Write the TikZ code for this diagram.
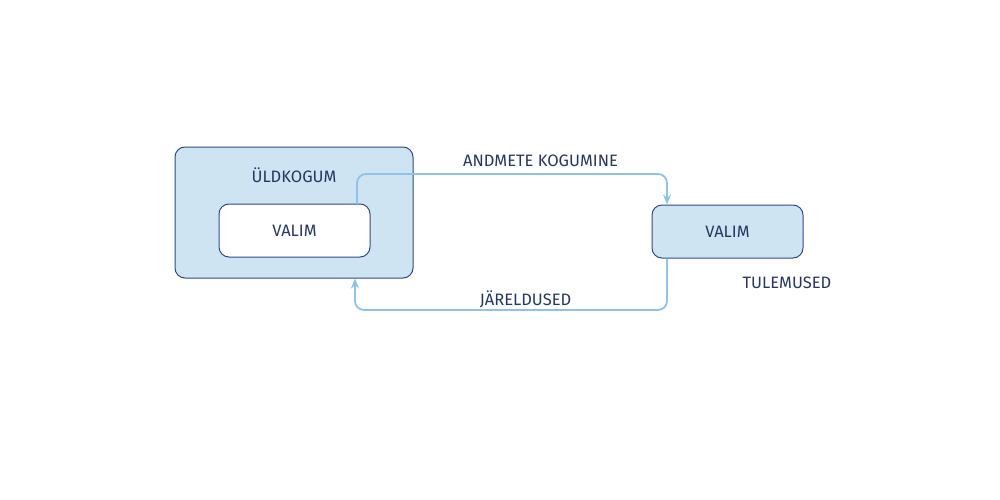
\documentclass[tikz,border=0pt]{standalone}
\usepackage{fontspec}
\setmainfont{Fira Sans}
\usetikzlibrary{arrows.meta}
\definecolor{boxfill}{HTML}{CFE4F3}
\definecolor{boxline}{HTML}{2E4A86}
\definecolor{txt}{HTML}{26365F}
\definecolor{flow}{HTML}{8EC3E6}
\begin{document}
\begin{tikzpicture}[x=1pt,y=-1pt,
  box/.style={draw=boxline,line width=1pt,rounded corners=10pt,inner sep=0pt},
  lbl/.style={text=txt,font=\fontsize{16.5}{18}\selectfont,inner sep=0pt},
  flowline/.style={draw=flow,line width=1.8pt,rounded corners=9pt,-{Stealth[length=10pt,width=8pt]}}]
\useasboundingbox (0,0) rectangle (1000,500);
\node[box,fill=boxfill,minimum width=238pt,minimum height=131pt] (pop) at (294,212.5) {};
\node[lbl] (popt) at (294,175) {ÜLDKOGUM};
\node[box,fill=white,minimum width=151pt,minimum height=53pt] (samp) at (294.5,230.5) {};
\node[lbl] at (samp.center) {VALIM};
\node[box,fill=boxfill,minimum width=151pt,minimum height=53pt] (res) at (727.5,231.5) {};
\node[lbl] at (res.center) {VALIM};
\coordinate (a1) at (357,174);
\coordinate (a2) at (667,174);
\draw[flowline] (samp.north -| a1) -- (a1) -- (a2) -- (res.north -| a2);
\coordinate (b1) at (667,310);
\coordinate (b2) at (355,310);
\draw[flowline] (res.south -| b1) -- (b1) -- (b2) -- (pop.south -| b2);
\node[lbl] (l1) at (540.5,161) {ANDMETE KOGUMINE};
\node[lbl] (l2) at (525.5,299) {JÄRELDUSED};
\node[lbl] (l3) at (787,283) {TULEMUSED};
\end{tikzpicture}
\end{document}
